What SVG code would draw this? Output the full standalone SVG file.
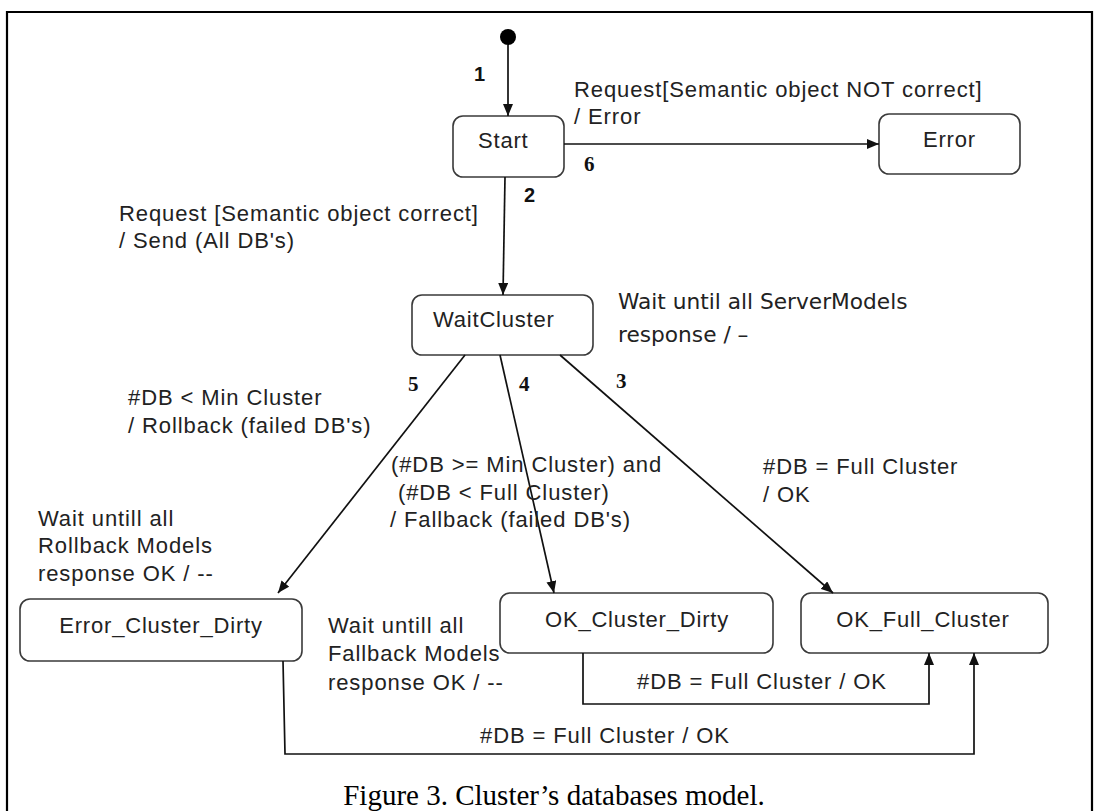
<svg xmlns="http://www.w3.org/2000/svg" width="1094" height="811" viewBox="0 0 1094 811">
<style>
.node rect{fill:#fff;stroke:#3a3a3a;stroke-width:1.6}
.nt{font-family:"Liberation Sans",Arial,sans-serif;font-size:22px;fill:#222;letter-spacing:0.8px}
.lb{font-family:"Liberation Sans",Arial,sans-serif;font-size:22px;fill:#222;letter-spacing:0.9px}
.lt{font-family:"DejaVu Sans","Noto Sans",sans-serif;font-size:21.7px;fill:#222}
.num{font-family:"Liberation Serif","Times New Roman",serif;font-size:21px;font-weight:bold;fill:#111}
.numb{font-family:"Liberation Sans",Arial,sans-serif;font-size:20px;font-weight:bold;fill:#111}
.conn path{fill:none;stroke:#111;stroke-width:1.7}
.cap{font-family:"Liberation Serif","Times New Roman",serif;font-size:29px;fill:#000}
</style>
<defs>
<marker id="ah" viewBox="0 0 12 10" refX="12" refY="5" markerWidth="12" markerHeight="10" markerUnits="userSpaceOnUse" orient="auto">
<path d="M0,0 L12,5 L0,10 z" fill="#111"/>
</marker>
</defs>
<rect x="0" y="0" width="1094" height="811" fill="#fff"/>
<path d="M7,811 V12 H1092 V811" fill="none" stroke="#000" stroke-width="2.2"/>

<g id="initial"><circle cx="508" cy="37" r="8" fill="#000"/></g>

<g id="start" class="node"><rect x="453" y="116" width="111" height="61" rx="10"/><text class="nt" x="478" y="148">Start</text></g>
<g id="error" class="node"><rect x="879" y="114" width="141" height="60" rx="10"/><text class="nt" x="923" y="147">Error</text></g>
<g id="waitcluster" class="node"><rect x="412" y="295" width="181" height="60" rx="10"/><text class="nt" x="433" y="327">WaitCluster</text></g>
<g id="error_cluster_dirty" class="node"><rect x="20" y="599" width="282" height="62" rx="10"/><text class="nt" x="161" y="633" text-anchor="middle">Error_Cluster_Dirty</text></g>
<g id="ok_cluster_dirty" class="node"><rect x="500" y="593" width="273" height="60" rx="10"/><text class="nt" x="637" y="627" text-anchor="middle">OK_Cluster_Dirty</text></g>
<g id="ok_full_cluster" class="node"><rect x="801" y="593" width="247" height="60" rx="10"/><text class="nt" x="923" y="627" text-anchor="middle">OK_Full_Cluster</text></g>

<g id="connectors" class="conn">
<path d="M508,45 L508,116" marker-end="url(#ah)"/>
<path d="M564,144 L879,144" marker-end="url(#ah)"/>
<path d="M505,177 L503,295" marker-end="url(#ah)"/>
<path d="M465,355 L278,593" marker-end="url(#ah)"/>
<path d="M500,355 L554,593" marker-end="url(#ah)"/>
<path d="M560,355 L833,593" marker-end="url(#ah)"/>
<path d="M583,653 V704 H929 V653" marker-end="url(#ah)"/>
<path d="M283,661 L285,754 H974 V653" marker-end="url(#ah)"/>
</g>

<g id="labels">
<text class="numb" x="474" y="81">1</text>
<text class="lb" x="574" y="97">Request[Semantic object NOT correct]</text>
<text class="lb" x="574" y="124">/ Error</text>
<text class="num" x="584" y="171">6</text>
<text class="numb" x="524" y="202">2</text>
<text class="lb" x="119" y="221">Request [Semantic object correct]</text>
<text class="lb" x="119" y="248">/ Send (All DB's)</text>
<text class="lt" x="618" y="309">Wait until all ServerModels</text>
<text class="lt" x="618" y="342">response / –</text>
<text class="num" x="408" y="391">5</text>
<text class="num" x="519" y="391">4</text>
<text class="num" x="616" y="388">3</text>
<text class="lb" x="128" y="405">#DB &lt; Min Cluster</text>
<text class="lb" x="128" y="433">/ Rollback (failed DB's)</text>
<text class="lb" x="391" y="472">(#DB &gt;= Min Cluster) and</text>
<text class="lb" x="398" y="500">(#DB &lt; Full Cluster)</text>
<text class="lb" x="390" y="527">/ Fallback (failed DB's)</text>
<text class="lb" x="763" y="474">#DB = Full Cluster</text>
<text class="lb" x="763" y="502">/ OK</text>
<text class="lb" x="38" y="526">Wait untill all</text>
<text class="lb" x="38" y="553">Rollback Models</text>
<text class="lb" x="38" y="581">response OK / --</text>
<text class="lb" x="328" y="633">Wait untill all</text>
<text class="lb" x="328" y="661">Fallback Models</text>
<text class="lb" x="328" y="690">response OK / --</text>
<text class="lb" x="637" y="689">#DB = Full Cluster / OK</text>
<text class="lb" x="480" y="743">#DB = Full Cluster / OK</text>
<text class="cap" x="554" y="805" text-anchor="middle">Figure 3. Cluster’s databases model.</text>
</g>
</svg>
